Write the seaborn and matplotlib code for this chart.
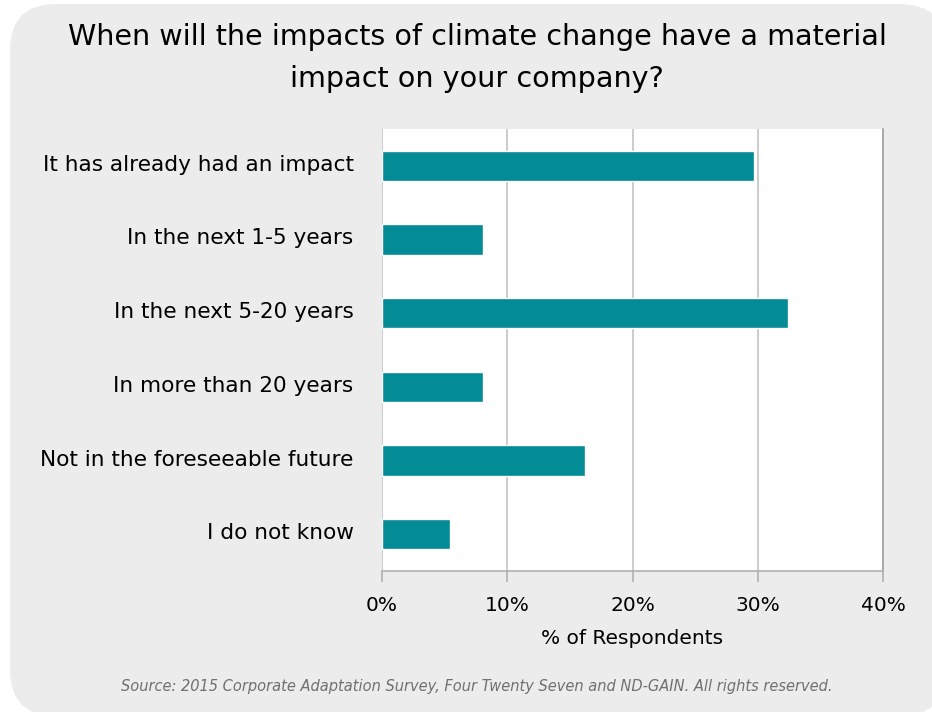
import pandas as pd
import numpy as np
import matplotlib.pyplot as plt
import seaborn as sns
import matplotlib.transforms as mtransforms
from matplotlib.patches import FancyBboxPatch
from matplotlib.ticker import PercentFormatter

answers = ["It has already had an impact", "In the next 1-5 years", "In the next 5-20 years",
           "In more than 20 years", "Not in the foreseeable future", "I do not know"]
share = [29.7, 8.1, 32.4, 8.1, 16.2, 5.4]

df = pd.DataFrame({"answer": answers, "share": share})

sns.set_style("white")
plt.rcParams['font.family'] = ['DejaVu Sans']

fig = plt.figure(figsize=(9.32, 7.12), dpi=100)
fig.patch.set_facecolor("white")

# rounded grey card behind everything (pixel coords -> figure fraction)
x0, y_top, x1, y_bot = 10, 4, 946, 716
card = FancyBboxPatch((x0 / 932, 1 - y_bot / 712), (x1 - x0) / 932, (y_bot - y_top) / 712,
                      boxstyle="round,pad=0,rounding_size=0.05",
                      transform=fig.transFigure, facecolor="#ececec", edgecolor="none",
                      mutation_aspect=932 / 712, zorder=-10)
fig.patches.append(card)

ax = fig.add_axes([382 / 932, 1 - 571 / 712, 501 / 932, 442 / 712])
ax.set_zorder(1)
ax.set_facecolor("white")

sns.barplot(data=df, x="share", y="answer", color="#038b96", width=0.41, saturation=1, ax=ax, zorder=3)

ax.set_xlim(0, 40)
ax.xaxis.set_major_formatter(PercentFormatter(decimals=0))
ax.set_xticks([0, 10, 20, 30, 40])
ax.grid(axis="x", color="#c4c4c4", linewidth=1.2, zorder=0)
ax.grid(axis="y", visible=False)
ax.set_axisbelow(True)

for s in ["top", "left"]:
    ax.spines[s].set_visible(False)
ax.spines["right"].set_color("#a0a0a0")
ax.spines["right"].set_linewidth(1.2)
ax.spines["bottom"].set_color("#b0b0b0")
ax.spines["bottom"].set_linewidth(1.2)

ax.tick_params(axis="x", bottom=True, length=8, width=1.2, color="#b0b0b0", labelsize=14.5,
               labelcolor="black", pad=10)
ax.tick_params(axis="y", left=False, labelsize=15.6, labelcolor="black", pad=17)
# labels sit a touch above the bar centre in the original
shift = mtransforms.ScaledTranslation(0, 3 / 100, fig.dpi_scale_trans)
for lbl in ax.get_yticklabels():
    lbl.set_transform(lbl.get_transform() + shift)

ax.set_ylabel("")
ax.set_xlabel("% of Respondents", fontsize=14.5, color="black", labelpad=10)

fig.text(477 / 932, 1 - 58 / 712, "When will the impacts of climate change have a material\nimpact on your company?",
         ha="center", va="center", fontsize=20.6, linespacing=1.65, color="black")

fig.text(477 / 932, 1 - 686 / 712,
         "Source: 2015 Corporate Adaptation Survey, Four Twenty Seven and ND-GAIN. All rights reserved.",
         ha="center", va="center", fontsize=10.5, style="italic", color="#707070")

plt.savefig("out.png", dpi=100)
